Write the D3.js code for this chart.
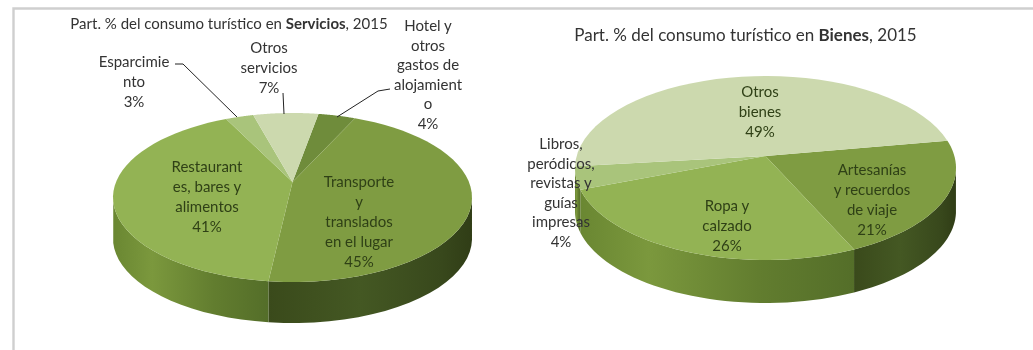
<!DOCTYPE html>
<html><head><meta charset="utf-8">
<script src="https://cdn.jsdelivr.net/npm/d3@7/dist/d3.min.js"></script>
<style>html,body{margin:0;padding:0;background:#fff}svg{display:block}
text{font-family:Lato,sans-serif;font-size:15px;text-anchor:middle;dominant-baseline:central}
#g{filter:blur(0.45px)}</style></head><body>
<svg width="1033" height="350"><g id="g"></g></svg>
<script>
// Data
const servicesCategories = ["Hotel y otros gastos de alojamiento","Transporte y translados en el lugar","Restaurantes, bares y alimentos","Esparcimiento","Otros servicios"];
const servicesValues = [4,45,41,3,7];
const goodsCategories = ["Artesanías y recuerdos de viaje","Ropa y calzado","Libros, peródicos, revistas y guías impresas","Otros bienes"];
const goodsValues = [21,26,4,49];
const servicesTitle = ["Part. % del consumo turístico en ","Servicios",", 2015"];
const goodsTitle = ["Part. % del consumo turístico en ","Bienes",", 2015"];

// Wrapped label text as shown in the picture
const servicesLabels = [
 ["Hotel y","otros","gastos de","alojamient","o","4%"],
 ["Transporte","y","translados","en el lugar","45%"],
 ["Restaurant","es, bares y","alimentos","41%"],
 ["Esparcimie","nto","3%"],
 ["Otros","servicios","7%"]];
const goodsLabels = [
 ["Artesanías","y recuerdos","de viaje","21%"],
 ["Ropa y","calzado","26%"],
 ["Libros,","peródicos,","revistas y","guías","impresas","4%"],
 ["Otros","bienes","49%"]];

// Layout and styles (separate from the data)
const C = {light:"#93b354",mid:"#7f9c42",dark:"#6f8c3b",pale:"#ccd9ae",soft:"#a9c47b"};
const lightWall=[["0","#6a8732"],["0.25","#7b983d"],["0.65","#627d2f"],["1","#546e29"]];
const darkWall=[["0","#3a4a1b"],["0.45","#445823"],["0.85","#38481c"],["1","#303d16"]];
const layouts=[{
  id:"s",cx:292.5,apexY:182,a:179.5,top:69,bottom:100,depth:41,start:10,
  values:servicesValues,labels:servicesLabels,
  fills:[C.dark,C.mid,C.light,C.soft,C.pale],walls:["dark","dark","light","light","light"],
  title:servicesTitle,titleX:229,titleY:23,titleSize:15,
  labelPos:[[428,25,"o"],[359,181,"i"],[207,166,"i"],[134,61,"o"],[269,47,"o"]],
  leaders:[[[390,89],[378,91],[337,117]],null,null,[[175,64],[183,64],[237,117]],[[283,93],[284,114]]]
},{
  id:"g",cx:765.5,apexY:156,a:190.5,top:80,bottom:104,depth:43,start:80,
  values:goodsValues,labels:goodsLabels,
  fills:[C.mid,C.light,C.soft,C.pale],walls:["dark","light","light","light"],
  title:goodsTitle,titleX:745.5,titleY:34,titleSize:17,
  labelPos:[[872,169,"i"],[727,205,"i"],[561,143,"o"],[760,91,"i"]],
  leaders:[null,null,null,null]
}];
const svg=d3.select("#g");
const defs=d3.select("svg").append("defs");
const lineH=20;

// page frame
svg.append("path").attr("d",d3.line()([[13.5,350],[13.5,8.5],[1033,8.5]])).attr("fill","none").attr("stroke","#cfcfcf").attr("stroke-width",2.4);

layouts.forEach(L=>{
  const b=2/(1/L.top+1/L.bottom), k=b/L.top-1, ap=L.a*Math.sqrt(1-k*k);
  const ellCenter=L.apexY+(L.bottom-L.top)/2;
  // perspective projection of a disc point given its clockwise angle (radians from top)
  const proj=t=>{const u=Math.sin(t),v=Math.cos(t),d=1+k*v;return [L.cx+ap*u/d,L.apexY-b*v/d];};
  const pie=d3.pie().sort(null).startAngle(L.start*Math.PI/180).endAngle((L.start+360)*Math.PI/180)(L.values);
  const arcPts=(s,e)=>d3.range(0,41).map(i=>proj(s+(e-s)*i/40));
  const line=d3.line();

  // walls
  pie.forEach((p,i)=>{
    const pts=arcPts(p.startAngle,p.endAngle).filter(q=>q[1]>=ellCenter-0.5);
    if(pts.length<2)return;
    const xs=pts.map(q=>q[0]),lo=d3.min(xs),hi=d3.max(xs);
    const gid=`w${L.id}${i}`;
    const stops=L.walls[i]==="dark"?darkWall:lightWall;
    const g=defs.append("linearGradient").attr("id",gid).attr("gradientUnits","userSpaceOnUse").attr("x1",lo).attr("x2",hi).attr("y1",0).attr("y2",0);
    stops.forEach(s=>g.append("stop").attr("offset",s[0]).attr("stop-color",s[1]));
    const poly=pts.concat(pts.slice().reverse().map(q=>[q[0],q[1]+L.depth]));
    svg.append("path").attr("d",line(poly)+"Z").attr("fill",`url(#${gid})`);
  });
  // top slices
  pie.forEach((p,i)=>{
    const poly=[[L.cx,L.apexY]].concat(arcPts(p.startAngle,p.endAngle));
    svg.append("path").attr("d",line(poly)+"Z").attr("fill",L.fills[i]);
  });
  // leader lines
  L.leaders.forEach(l=>{ if(l) svg.append("path").attr("d",line(l)).attr("fill","none").attr("stroke","#222").attr("stroke-width",1);});
  // labels
  L.labels.forEach((lines,i)=>{
    const [x,y,kind]=L.labelPos[i];
    const t=svg.append("text").attr("fill",kind==="i"?"#2f4016":"#333");
    lines.forEach((s,j)=>t.append("tspan").attr("x",x).attr("y",y+j*lineH*(lines.length>5?0.98:1)).text(s));
  });
  // title
  const t=svg.append("text").attr("x",L.titleX).attr("y",L.titleY).attr("fill","#333").style("font-size",L.titleSize+"px");
  L.title.forEach((s,j)=>t.append("tspan").attr("font-weight",j===1?"bold":"normal").text(s));
});
</script></body></html>
